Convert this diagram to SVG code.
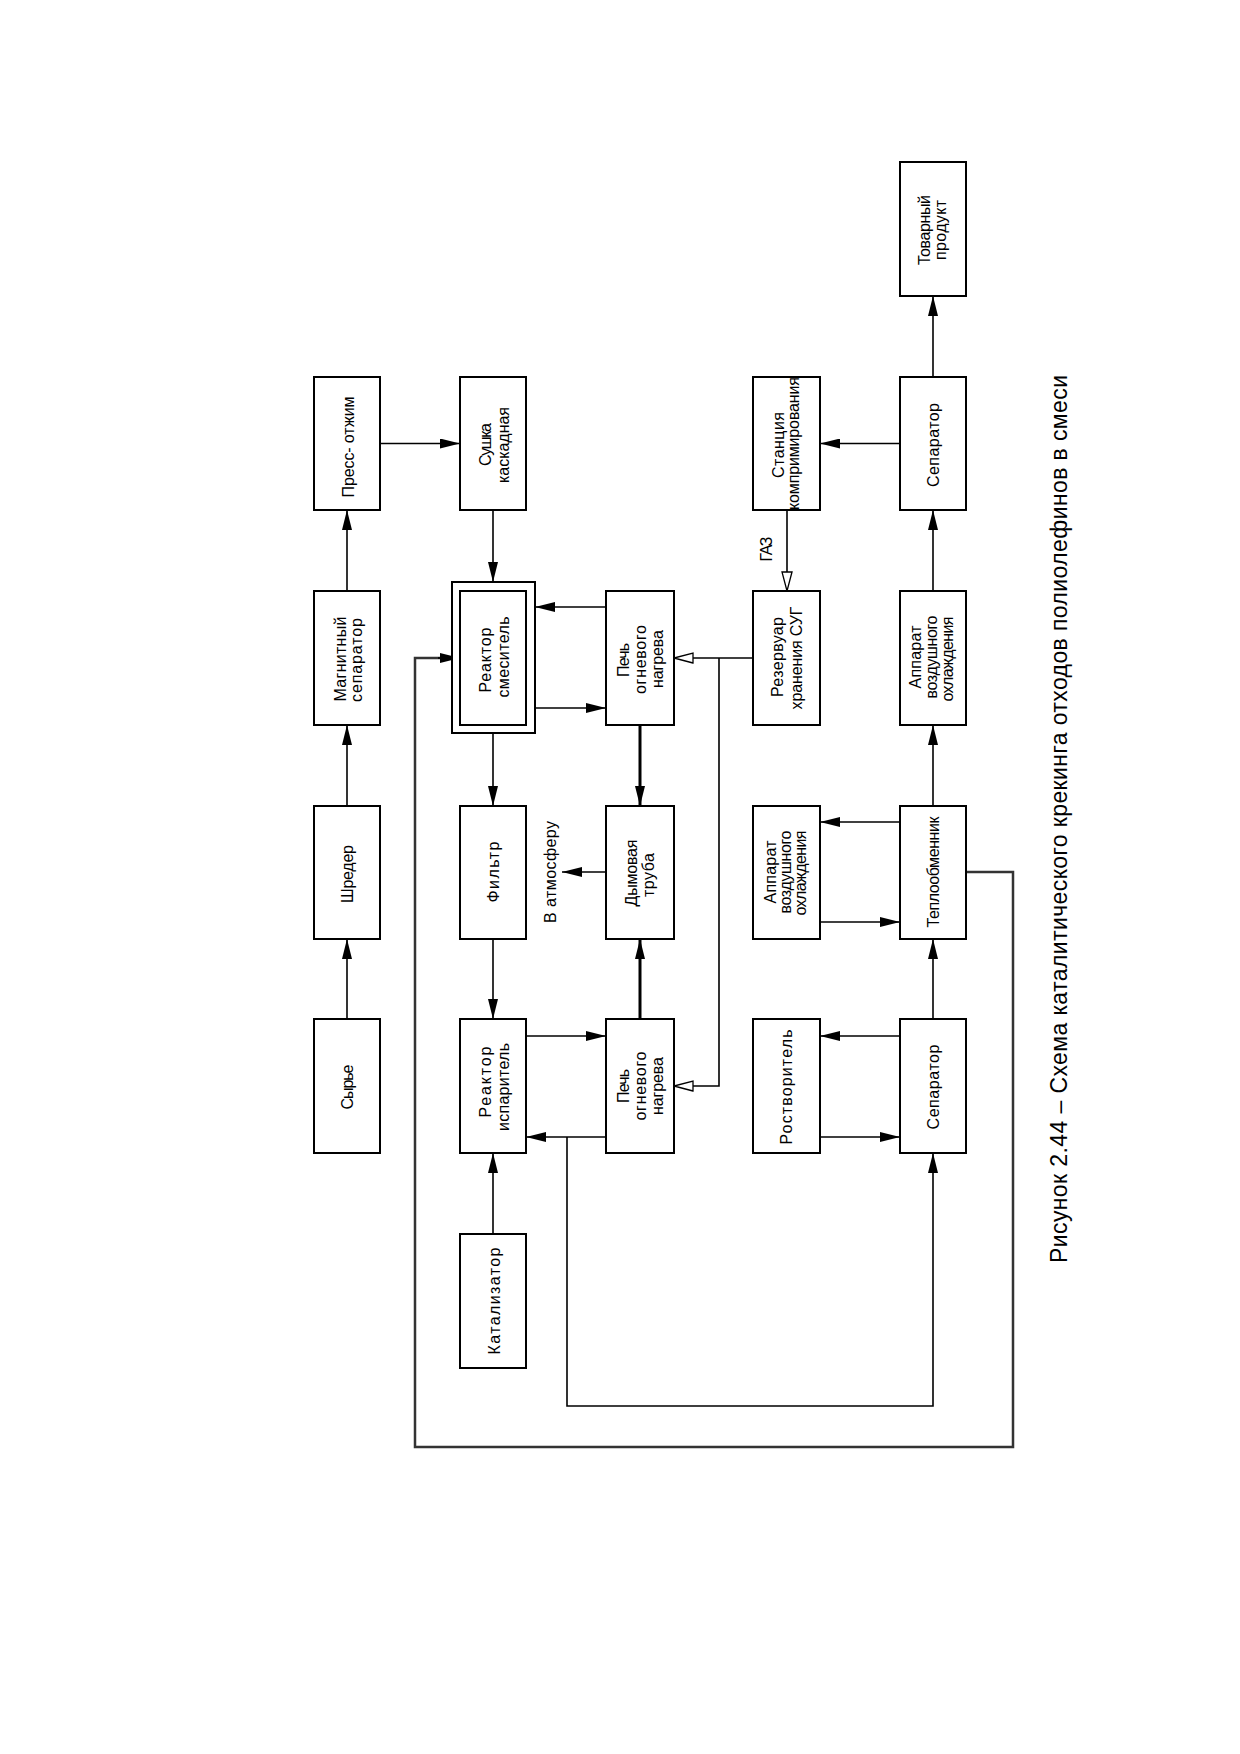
<svg xmlns="http://www.w3.org/2000/svg" width="1240" height="1754" viewBox="0 0 1240 1754">
<style>
.box{fill:#fff;stroke:#000;stroke-width:2}
.t{font-family:"Liberation Sans",Arial,sans-serif;font-size:16px;fill:#000;text-anchor:middle}
.c{fill:none;stroke:#000;stroke-width:1.6}
.thick{fill:none;stroke:#000;stroke-width:3}
.loop{fill:none;stroke:#333;stroke-width:2.5}
.cap{font-family:"Liberation Sans",Arial,sans-serif;font-size:23px;fill:#000;text-anchor:middle}
</style>
<defs>
<marker id="a" markerUnits="userSpaceOnUse" markerWidth="20" markerHeight="10" refX="20" refY="5" orient="auto"><path d="M0,0 L20,5 L0,10 z" fill="#000"/></marker>
<marker id="o" markerUnits="userSpaceOnUse" markerWidth="22" markerHeight="14" refX="20" refY="7" orient="auto"><path d="M1,2 L20,7 L1,12 z" fill="#fff" stroke="#000" stroke-width="1.3"/></marker>
</defs>
<rect width="1240" height="1754" fill="#fff"/>

<g id="connectors">
<path class="c" d="M347,1019 V939" marker-end="url(#a)"/>
<path class="c" d="M347,806 V725" marker-end="url(#a)"/>
<path class="c" d="M347,591 V510" marker-end="url(#a)"/>
<path class="c" d="M380,443.5 H460" marker-end="url(#a)"/>
<path class="c" d="M493,510 V582" marker-end="url(#a)"/>
<path class="c" d="M493,733 V806" marker-end="url(#a)"/>
<path class="c" d="M493,939 V1019" marker-end="url(#a)"/>
<path class="c" d="M493,1234 V1153" marker-end="url(#a)"/>
<path class="c" d="M526,1036 H606" marker-end="url(#a)"/>
<path class="c" d="M606,1137 H526" marker-end="url(#a)"/>
<path class="c" d="M567,1137 V1406 H933 V1153" marker-end="url(#a)"/>
<path class="thick" d="M640,1019 V939" marker-end="url(#a)"/>
<path class="thick" d="M640,725 V806" marker-end="url(#a)"/>
<path class="c" d="M606,607 H535" marker-end="url(#a)"/>
<path class="c" d="M535,708 H606" marker-end="url(#a)"/>
<path class="c" d="M606,872 H562" marker-end="url(#a)"/>
<path class="c" d="M753,658 H674" marker-end="url(#o)"/>
<path class="c" d="M719,658 V1086 H674" marker-end="url(#o)"/>
<path class="c" d="M787,510 V591" marker-end="url(#o)"/>
<path class="c" d="M900,443.5 H820" marker-end="url(#a)"/>
<path class="c" d="M933,377 V296" marker-end="url(#a)"/>
<path class="c" d="M933,591 V510" marker-end="url(#a)"/>
<path class="c" d="M933,806 V725" marker-end="url(#a)"/>
<path class="c" d="M900,822 H820" marker-end="url(#a)"/>
<path class="c" d="M820,922 H900" marker-end="url(#a)"/>
<path class="c" d="M933,1019 V939" marker-end="url(#a)"/>
<path class="c" d="M900,1036 H820" marker-end="url(#a)"/>
<path class="c" d="M820,1137 H900" marker-end="url(#a)"/>
<path class="loop" d="M966,872 H1013 V1447 H415 V658 H440"/>
<path class="c" d="M438,658 H460" marker-end="url(#a)"/>
<text class="t" transform="translate(772,549) rotate(-90)" textLength="25">ГАЗ</text>
<text class="t" transform="translate(556,872) rotate(-90)" textLength="102">В атмосферу</text>
</g>

<g id="n-syrye"><rect class="box" x="314" y="1019" width="66" height="134"/>
<text class="t" transform="translate(353,1087) rotate(-90)" textLength="45">Сырье</text></g>
<g id="n-shreder"><rect class="box" x="314" y="806" width="66" height="133"/>
<text class="t" transform="translate(353,874) rotate(-90)" textLength="58">Шредер</text></g>
<g id="n-magsep"><rect class="box" x="314" y="591" width="66" height="134"/>
<text class="t" transform="translate(345.5,659) rotate(-90)" textLength="85">Магнитный</text>
<text class="t" transform="translate(362,660) rotate(-90)" textLength="84">сепаратор</text></g>
<g id="n-press"><rect class="box" x="314" y="377" width="66" height="133"/>
<text class="t" transform="translate(353.5,447) rotate(-90)" textLength="101">Пресс- отжим</text></g>
<g id="n-sushka"><rect class="box" x="460" y="377" width="66" height="133"/>
<text class="t" transform="translate(491,444.5) rotate(-90)" textLength="43">Сушка</text>
<text class="t" transform="translate(509,445) rotate(-90)" textLength="76">каскадная</text></g>
<g id="n-rsmes"><rect class="box" x="452" y="582" width="83" height="151"/><rect class="box" x="460" y="591" width="66" height="134"/>
<text class="t" transform="translate(491,660) rotate(-90)" textLength="65">Реактор</text>
<text class="t" transform="translate(509,657) rotate(-90)" textLength="81">смеситель</text></g>
<g id="n-filtr"><rect class="box" x="460" y="806" width="66" height="133"/>
<text class="t" transform="translate(499,872) rotate(-90)" textLength="61">Фильтр</text></g>
<g id="n-risp"><rect class="box" x="460" y="1019" width="66" height="134"/>
<text class="t" transform="translate(491,1082) rotate(-90)" textLength="71">Реактор</text>
<text class="t" transform="translate(509,1087) rotate(-90)" textLength="88">испаритель</text></g>
<g id="n-kat"><rect class="box" x="460" y="1234" width="66" height="134"/>
<text class="t" transform="translate(499.5,1301) rotate(-90)" textLength="107">Катализатор</text></g>
<g id="n-pech1"><rect class="box" x="606" y="591" width="68" height="134"/>
<text class="t" transform="translate(628.5,660) rotate(-90)" textLength="34">Печь</text>
<text class="t" transform="translate(645.5,659.5) rotate(-90)" textLength="69">огневого</text>
<text class="t" transform="translate(662.5,659) rotate(-90)" textLength="58">нагрева</text></g>
<g id="n-dym"><rect class="box" x="606" y="806" width="68" height="133"/>
<text class="t" transform="translate(636.5,873) rotate(-90)" textLength="67">Дымовая</text>
<text class="t" transform="translate(653.5,875) rotate(-90)" textLength="44">труба</text></g>
<g id="n-pech2"><rect class="box" x="606" y="1019" width="68" height="134"/>
<text class="t" transform="translate(628.5,1086) rotate(-90)" textLength="34">Печь</text>
<text class="t" transform="translate(645.5,1086) rotate(-90)" textLength="69">огневого</text>
<text class="t" transform="translate(662.5,1086) rotate(-90)" textLength="58">нагрева</text></g>
<g id="n-tovar"><rect class="box" x="900" y="162" width="66" height="134"/>
<text class="t" transform="translate(930,230) rotate(-90)" textLength="70">Товарный</text>
<text class="t" transform="translate(945.5,230) rotate(-90)" textLength="60">продукт</text></g>
<g id="n-stanc"><rect class="box" x="753" y="377" width="67" height="133"/>
<text class="t" transform="translate(784,445) rotate(-90)" textLength="66">Станция</text>
<text class="t" transform="translate(798.5,443.5) rotate(-90)" textLength="133">компримирования</text></g>
<g id="n-sep1"><rect class="box" x="900" y="377" width="66" height="133"/>
<text class="t" transform="translate(938.5,445) rotate(-90)" textLength="84">Сепаратор</text></g>
<g id="n-rez"><rect class="box" x="753" y="591" width="67" height="134"/>
<text class="t" transform="translate(782.5,657) rotate(-90)" textLength="80">Резервуар</text>
<text class="t" transform="translate(802,658) rotate(-90)" textLength="103">хранения  СУГ</text></g>
<g id="n-avo1"><rect class="box" x="900" y="591" width="66" height="134"/>
<text class="t" transform="translate(921,657) rotate(-90)" textLength="63">Аппарат</text>
<text class="t" transform="translate(937,657) rotate(-90)" textLength="83">воздушного</text>
<text class="t" transform="translate(953,659) rotate(-90)" textLength="85">охлаждения</text></g>
<g id="n-avo2"><rect class="box" x="753" y="806" width="67" height="133"/>
<text class="t" transform="translate(775.5,872) rotate(-90)" textLength="63">Аппарат</text>
<text class="t" transform="translate(790.5,872) rotate(-90)" textLength="83">воздушного</text>
<text class="t" transform="translate(806,873) rotate(-90)" textLength="85">охлаждения</text></g>
<g id="n-tepl"><rect class="box" x="900" y="806" width="66" height="133"/>
<text class="t" transform="translate(938.5,872) rotate(-90)" textLength="111">Теплообменник</text></g>
<g id="n-rast"><rect class="box" x="753" y="1019" width="67" height="134"/>
<text class="t" transform="translate(792,1087) rotate(-90)" textLength="115">Ростворитель</text></g>
<g id="n-sep2"><rect class="box" x="900" y="1019" width="66" height="134"/>
<text class="t" transform="translate(938.5,1087) rotate(-90)" textLength="85">Сепаратор</text></g>

<text class="cap" transform="translate(1067,819) rotate(-90)" textLength="888">Рисунок 2.44 – Схема каталитического крекинга отходов полиолефинов в смеси</text>
</svg>
